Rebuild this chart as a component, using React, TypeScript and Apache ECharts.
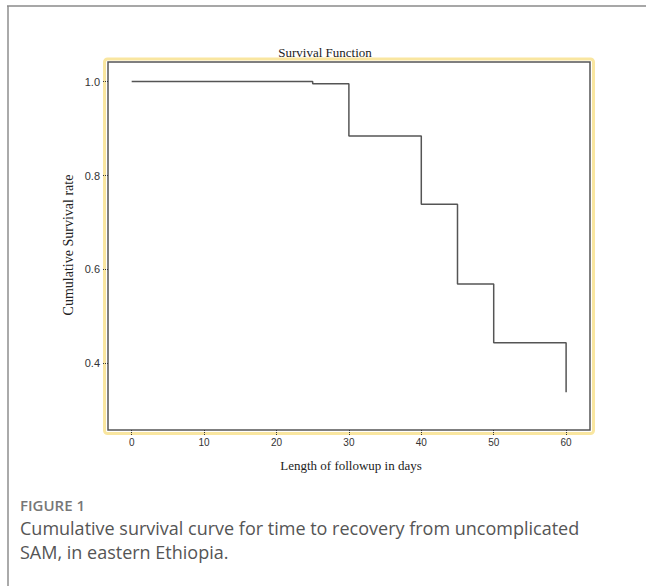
import React, { useEffect, useRef } from "react";
import * as echarts from "echarts";

const days = [0, 25, 30, 40, 45, 50, 60];
const survival = [1.0, 0.995, 0.884, 0.739, 0.569, 0.444, 0.339];
const xTicks = [0, 10, 20, 30, 40, 50, 60];
const yTicks = [0.4, 0.6, 0.8, 1.0];
const chartTitle = "Survival Function";
const xName = "Length of followup in days";
const yName = "Cumulative Survival rate";
const figLabel = "FIGURE 1";
const captionLines = [
  "Cumulative survival curve for time to recovery from uncomplicated",
  "SAM, in eastern Ethiopia.",
];

export default function App() {
  const ref = useRef<HTMLDivElement>(null);
  useEffect(() => {
    const chart = echarts.init(ref.current!, null, { renderer: "svg" });
    const serif = "'Liberation Serif', 'DejaVu Serif', serif";
    const sans = "'Liberation Sans', Arial, sans-serif";
    chart.setOption({
      animation: false,
      backgroundColor: "#fff",
      grid: {
        left: 108,
        top: 62,
        width: 482,
        height: 368,
        show: true,
        borderColor: "#555",
        borderWidth: 1.5,
        backgroundColor: "#fff",
      },
      xAxis: {
        type: "value",
        min: -3.27,
        max: 63.3,
        splitLine: { show: false },
        axisLine: { show: false, onZero: false },
        axisTick: {
          show: true,
          length: 5,
          customValues: xTicks,
          lineStyle: { color: "#333", type: [1, 1], width: 1 },
        },
        axisLabel: {
          customValues: xTicks,
          color: "#333",
          fontSize: 10,
          fontFamily: sans,
          margin: 7,
        },
      },
      yAxis: {
        type: "value",
        min: 0.2585,
        max: 1.0415,
        splitLine: { show: false },
        axisLine: { show: false, onZero: false },
        axisTick: {
          show: true,
          length: 5,
          customValues: yTicks,
          lineStyle: { color: "#333", type: [1, 1], width: 1 },
        },
        axisLabel: {
          customValues: yTicks,
          color: "#333",
          fontSize: 11,
          fontFamily: sans,
          margin: 8,
          formatter: (v: number) => v.toFixed(1),
        },
      },
      series: [
        {
          type: "line",
          step: "end",
          symbol: "none",
          data: days.map((d, i) => [d, survival[i]]),
          lineStyle: { color: "#555", width: 1.5 },
          z: 5,
        },
      ],
      graphic: [
        {
          type: "line",
          shape: { x1: 8, y1: 6, x2: 8, y2: 586 },
          style: { stroke: "#aaa", lineWidth: 2 },
          silent: true,
        },
        {
          type: "line",
          shape: { x1: 7, y1: 6, x2: 646, y2: 6 },
          style: { stroke: "#8a8a8a", lineWidth: 1.5 },
          silent: true,
        },
        {
          type: "rect",
          shape: { x: 104.5, y: 59, width: 489, height: 374.5, r: 3 },
          style: { fill: "none", stroke: "#f9e6a0", lineWidth: 3 },
          z: -1,
          silent: true,
        },
        {
          type: "text",
          x: 325,
          y: 52,
          style: {
            text: chartTitle,
            font: `13px ${serif}`,
            fill: "#222",
            textAlign: "center",
            textVerticalAlign: "middle",
          },
        },
        {
          type: "text",
          x: 351,
          y: 465,
          style: {
            text: xName,
            font: `13px ${serif}`,
            fill: "#222",
            textAlign: "center",
            textVerticalAlign: "middle",
          },
        },
        {
          type: "text",
          x: 68,
          y: 245,
          rotation: Math.PI / 2,
          style: {
            text: yName,
            font: `14px ${serif}`,
            fill: "#222",
            textAlign: "center",
            textVerticalAlign: "middle",
          },
        },
        {
          type: "text",
          x: 20,
          y: 505,
          style: {
            text: figLabel,
            font: `600 15px 'Open Sans', sans-serif`,
            fill: "#777",
            textAlign: "left",
            textVerticalAlign: "middle",
          },
        },
        ...captionLines.map((t, i) => ({
          type: "text",
          x: 20,
          y: 528 + i * 24,
          style: {
            text: t,
            font: `18px 'Open Sans', sans-serif`,
            fill: "#555",
            textAlign: "left",
            textVerticalAlign: "middle",
          },
        })),
      ],
    });
    return () => chart.dispose();
  }, []);
  return (
    <div
      ref={ref}
      style={{ position: "absolute", left: 0, top: 0, width: 646, height: 586 }}
    />
  );
}
